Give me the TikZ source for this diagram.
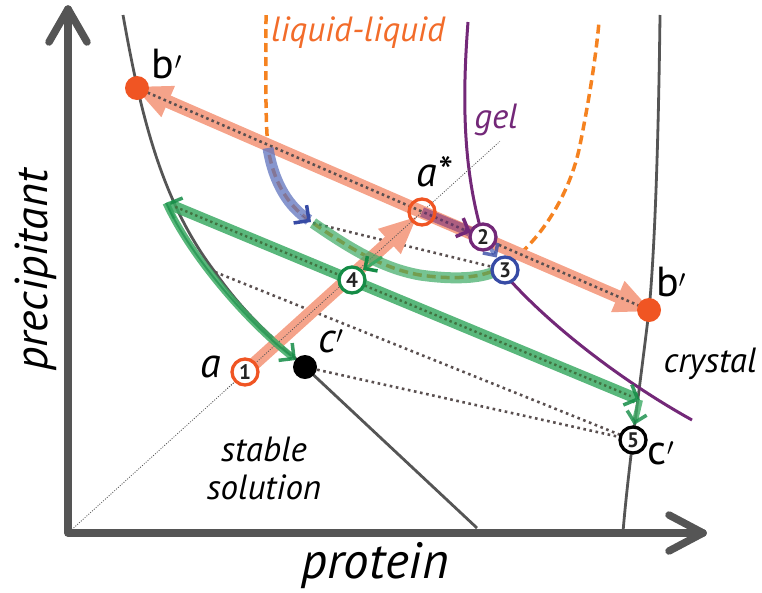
\documentclass[tikz,border=0pt]{standalone}
\usepackage{fontspec}
\setmainfont{PT Sans}
\usetikzlibrary{arrows.meta,calc}
\definecolor{axisgray}{RGB}{85,85,85}
\definecolor{salmon}{RGB}{245,163,138}
\definecolor{dotred}{RGB}{240,85,35}
\definecolor{llorange}{RGB}{245,130,32}
\definecolor{lltext}{RGB}{242,108,42}
\definecolor{gelpurple}{RGB}{115,40,120}
\definecolor{bluedark}{RGB}{55,75,165}
\definecolor{bluelight}{RGB}{95,115,190}
\definecolor{greendark}{RGB}{20,140,70}
\definecolor{greenlight}{RGB}{60,170,100}
\definecolor{dotgray}{RGB}{90,80,80}
\definecolor{numdark}{RGB}{35,35,35}
\tikzset{
  axisline/.style={axisgray,line width=7.5pt,line cap=round,line join=round},
  boundary/.style={axisgray,line width=2.8pt},
  lldash/.style={llorange,line width=3.5pt,dash pattern=on 9pt off 5pt},
  gelline/.style={gelpurple,line width=3pt},
  thindot/.style={axisgray,line width=0.8pt,dash pattern=on 1pt off 1.5pt},
  tiedot/.style={dotgray,line width=2.6pt,dash pattern=on 2.6pt off 3.6pt},
  centerdot/.style={dotgray,line width=2.6pt,dash pattern=on 2.6pt off 3.2pt},
  greencenter/.style={black!60!green!50!gray,line width=2.4pt,dash pattern=on 2.4pt off 3pt},
  salmonarrow/.style={salmon,line width=13pt,-{Triangle[length=38pt,width=31pt]}},
  greenbar/.style={greenlight,line width=11pt,opacity=0.85},
  circ/.style={circle,line width=3.3pt,minimum size=26pt,inner sep=0pt,fill=white,text=numdark,font=\bfseries\fontsize{21}{21}\selectfont},
  fdot/.style={circle,minimum size=24pt,inner sep=0pt},
  lbl/.style={font=\fontsize{42}{42}\selectfont,inner sep=0pt},
  ilbl/.style={font=\itshape\fontsize{42}{42}\selectfont,inner sep=0pt},
  region/.style={font=\itshape\fontsize{35}{38}\selectfont,inner sep=0pt,align=center},
  axlabel/.style={font=\itshape\fontsize{51}{51}\selectfont,inner sep=0pt}
}
\begin{document}
\begin{tikzpicture}[x=1pt,y=-1pt]
\useasboundingbox (0,0) rectangle (762,592);
% coordinates
\coordinate (O) at (68,533);
\coordinate (Ytip) at (68,9);
\coordinate (Xtip) at (703,533);
\coordinate (bLc) at (137,88);
\coordinate (bRc) at (649,310);
\coordinate (astc) at (422,212);
\coordinate (p1c) at (245,372);
\coordinate (cLc) at (305,367);
\coordinate (p2c) at (483,237);
\coordinate (p3c) at (505,270);
\coordinate (p4c) at (352,280);
\coordinate (p5c) at (633,440);
\coordinate (gL) at (166,203);
\coordinate (gR) at (640,400);
\coordinate (bs) at (268,148);
\coordinate (be) at (313,223);
\coordinate (tieS) at (215,272);
\coordinate (llA) at (266,15);
\coordinate (llB) at (599,22);
\coordinate (gelTop) at (468,22);
\coordinate (gelEnd) at (692,420);
% axes
\draw[axisline] (Ytip) -- (O) -- (Xtip);
\draw[axisline] (49,42) -- (Ytip) -- (87,42);
\draw[axisline] (669,515) -- (Xtip) -- (669,551);
% left boundary (precipitation)
\draw[boundary] (123,15) .. controls (140,110) and (160,200) .. (tieS)
  .. controls (245,315) and (275,340) .. (cLc) -- (477,528);
% right boundary (crystal solubility)
\draw[boundary] (660,15) .. controls (658,180) and (653,270) .. (bRc)
  .. controls (642,370) and (628,470) .. (623,532);
% liquid-liquid U
\draw[lldash] (llA) .. controls (266,70) and (265,115) .. (bs)
  .. controls (274,185) and (290,208) .. (be)
  .. controls (345,245) and (380,268) .. (420,275)
  .. controls (455,280) and (480,278) .. (500,268);
\draw[lldash] (510,262) .. controls (540,240) and (570,195) .. (580,145)
  .. controls (590,95) and (596,55) .. (llB);
% gel line
\draw[gelline] (gelTop) .. controls (462,100) and (463,170) .. (p2c);
\draw[gelline] (508,278) .. controls (550,325) and (620,380) .. (gelEnd);
% thin diagonal
\draw[thindot] (O) -- ($(O)!1.22!(astc)$);
% tie lines
\draw[tiedot] (be) -- (p3c);
\draw[tiedot] (tieS) -- (p5c);
\draw[tiedot] (cLc) -- (p5c);
% salmon arrows
\draw[salmonarrow, shorten >=-4pt] (astc) -- (bLc);
\draw[salmonarrow, shorten >=-4pt] (astc) -- (bRc);
\draw[salmonarrow] (p1c) -- ($(astc)!6pt!(p1c)$);
\draw[centerdot] (bLc) -- (bRc);
\draw[thindot] ($(O)!0.45!(astc)$) -- (astc);
% purple a* -> 2
\draw[gelpurple,line width=10pt,opacity=0.55,shorten >=14pt] (astc) -- (p2c);
\draw[gelpurple,line width=3pt,-{Straight Barb[length=10pt,width=20pt,line width=3.5pt]},shorten >=13pt] ($(astc)!0.7!(p2c)$) -- (p2c);
% blue arrows
\draw[bluelight,line width=11pt,opacity=0.75] (bs) .. controls (274,185) and (290,208) .. ($(be)+(-4,-3)$);
\draw[bluedark,line width=0.1pt,-{Straight Barb[length=11pt,width=22pt,line width=3.5pt]}] (300,214) -- ($(be)+(-2,-1)$);
\draw[bluelight,line width=4pt,opacity=0.8,shorten <=14pt,shorten >=15pt,-{Straight Barb[length=9pt,width=18pt,line width=3.5pt,color=bluedark]}] (p2c) -- (p3c);
% green bowl overlay
\draw[greenbar,opacity=0.7] (be) .. controls (345,245) and (380,268) .. (420,275)
  .. controls (455,280) and (480,278) .. (494,272);
% green main double arrow
\draw[greenbar,{Straight Barb[length=11pt,width=22pt,line width=3.5pt,color=greendark]}-{Straight Barb[length=11pt,width=22pt,line width=3.5pt,color=greendark]}] (gL) -- (gR);
\draw[greencenter,shorten <=10pt,shorten >=10pt] (gL) -- (gR);
% green curve to c'
\draw[greenlight,line width=7pt,opacity=0.85,-{Straight Barb[length=11pt,width=22pt,line width=3.5pt,color=greendark]}] (gL) .. controls (190,255) and (245,320) .. ($(cLc)+(-9,-7)$);
\draw[greendark,line width=2pt,opacity=0.6] (gL) .. controls (190,255) and (245,320) .. ($(cLc)+(-14,-11)$);
% green down to 5
\draw[greenlight,line width=6pt,opacity=0.8,-{Straight Barb[length=10pt,width=20pt,line width=3.5pt,color=greendark]}] (gR) -- ($(p5c)+(1,-15)$);
% green short arrow to 4
\draw[greenlight,line width=3pt,-{Straight Barb[length=9pt,width=18pt,line width=3.5pt,color=greendark]}] (382,257) -- ($(p4c)+(11,-10)$);
% points
\node[fdot,fill=dotred] (bL) at (bLc) {};
\node[fdot,fill=dotred] (bR) at (bRc) {};
\node[fdot,fill=black,minimum size=24pt] (cL) at (cLc) {};
\node[circle,draw=dotred,line width=3.3pt,minimum size=26pt,inner sep=0pt] (ast) at (astc) {};
\node[circ,draw=dotred] (p1) at (p1c) {1};
\node[circ,draw=gelpurple] (p2) at (p2c) {2};
\node[circ,draw=bluedark] (p3) at (p3c) {3};
\node[circ,draw=greendark] (p4) at (p4c) {4};
\node[circ,draw=black] (p5) at (p5c) {5};
% labels
\node[lbl] (lbL) at (167,64) {b$'$};
\node[lbl] (lbR) at (671,282) {b$'$};
\node[ilbl] (last) at (434,172) {a*};
\node[ilbl] (la) at (211,367) {a};
\node[ilbl] (lcL) at (331,341) {c$'$};
\node[lbl] (lcR) at (661,453) {c$'$};
\node[region,text=lltext] (tll) at (358,33) {liquid-liquid};
\node[region,text=gelpurple] (tgel) at (496,120) {gel};
\node[region] (tcr) at (710,364) {crystal};
\node[region] (tst) at (264,468) {stable\\solution};
\node[axlabel] (tx) at (375,566) {protein};
\node[axlabel,rotate=90,font=\itshape\fontsize{46}{46}\selectfont] (ty) at (36,270) {precipitant};
\end{tikzpicture}
\end{document}
